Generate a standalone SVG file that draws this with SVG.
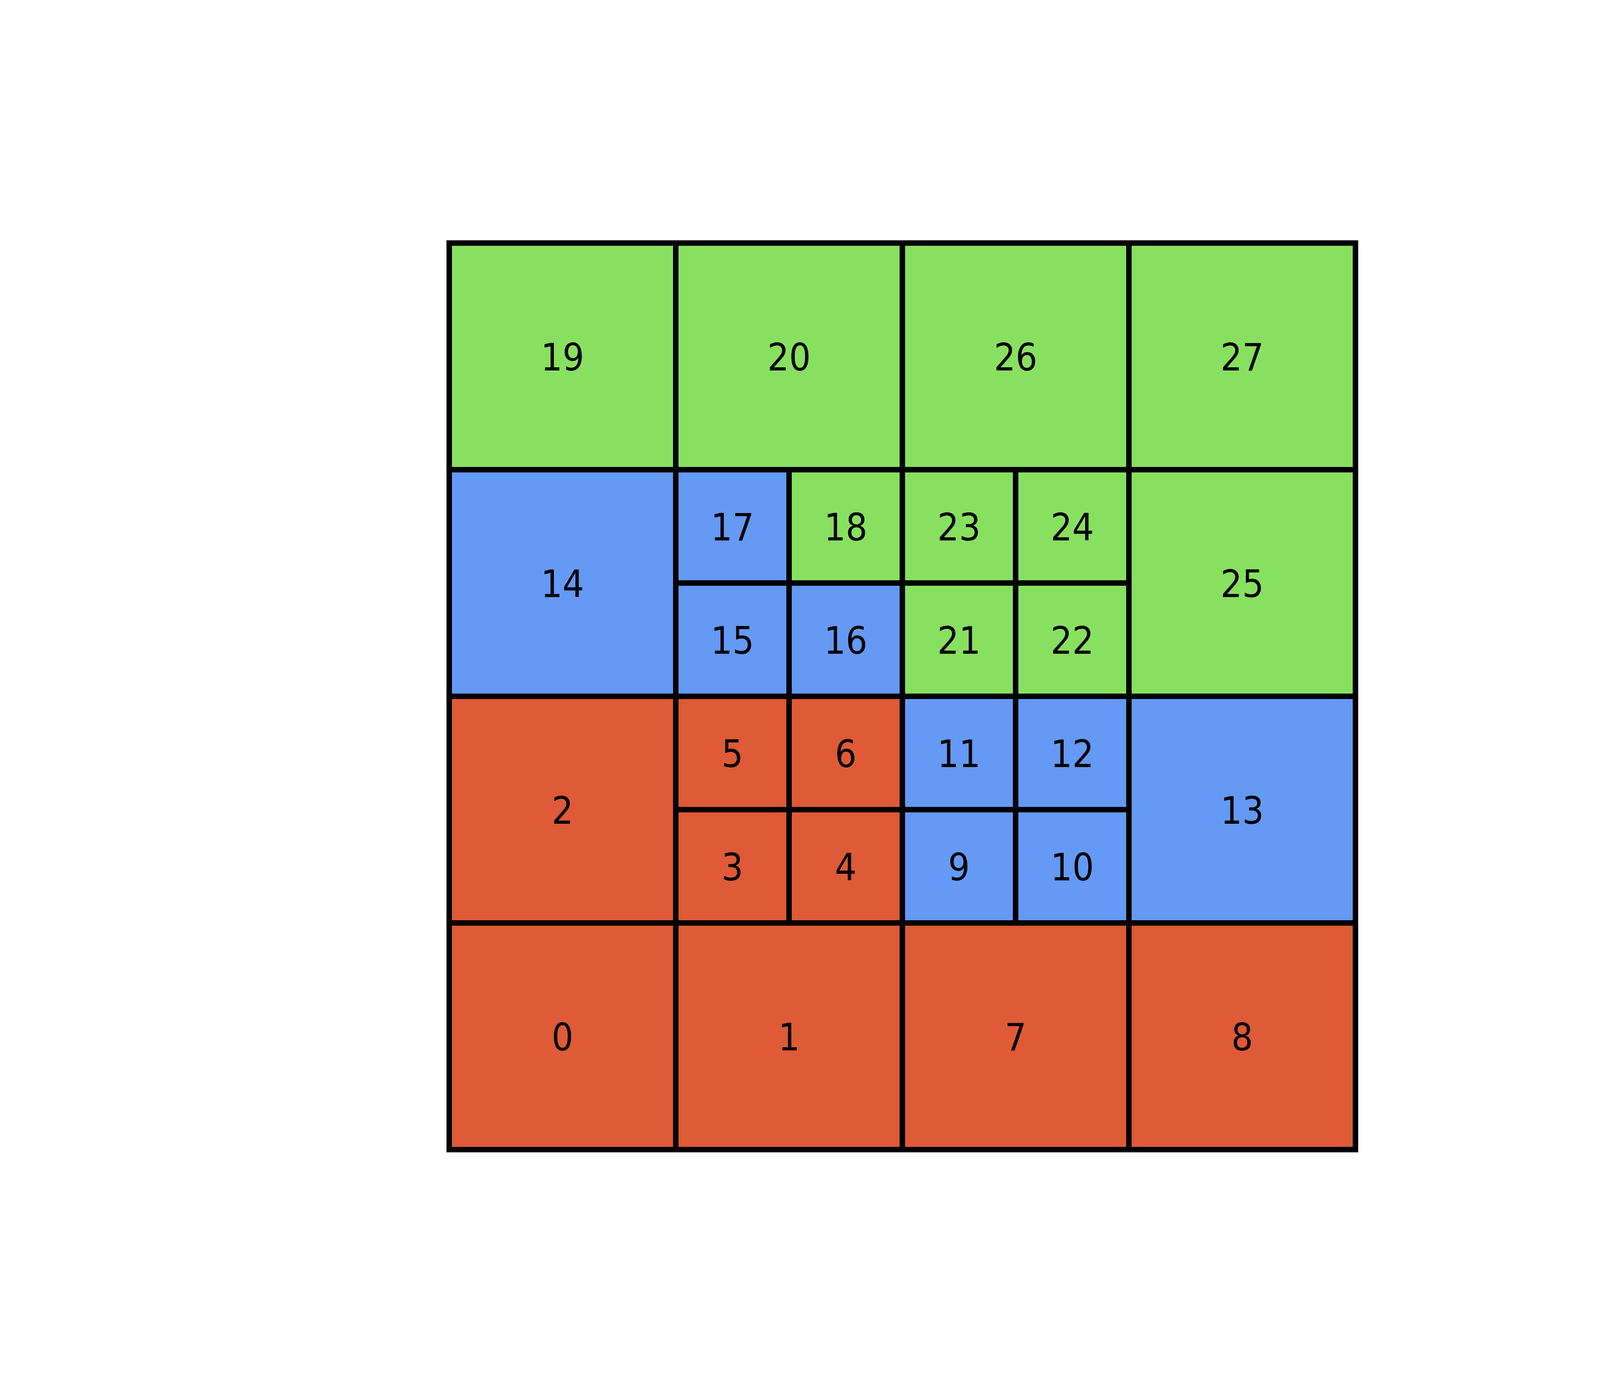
<svg xmlns="http://www.w3.org/2000/svg" width="4620" height="3570" viewBox="0 0 4620 3570">
<style>
rect{stroke:#000;stroke-width:14}
.g{fill:#88E060}.b{fill:#6499F5}.r{fill:#DF5A36}
text{font-family:"DejaVu Sans Condensed","DejaVu Sans",sans-serif;font-size:97px;fill:#000;text-anchor:middle}
</style>
<rect x="0" y="0" width="4620" height="3570" style="fill:#fff;stroke:none"/>
<g id="n19"><rect class="g" x="1150" y="622" width="580" height="580"/><text x="1440" y="948">19</text></g>
<g id="n20"><rect class="g" x="1730" y="622" width="580" height="580"/><text x="2020" y="948">20</text></g>
<g id="n26"><rect class="g" x="2310" y="622" width="580" height="580"/><text x="2600" y="948">26</text></g>
<g id="n27"><rect class="g" x="2890" y="622" width="580" height="580"/><text x="3180" y="948">27</text></g>
<g id="n14"><rect class="b" x="1150" y="1202" width="580" height="580"/><text x="1440" y="1528">14</text></g>
<g id="n17"><rect class="b" x="1730" y="1202" width="290" height="290"/><text x="1875" y="1383">17</text></g>
<g id="n18"><rect class="g" x="2020" y="1202" width="290" height="290"/><text x="2165" y="1383">18</text></g>
<g id="n15"><rect class="b" x="1730" y="1492" width="290" height="290"/><text x="1875" y="1673">15</text></g>
<g id="n16"><rect class="b" x="2020" y="1492" width="290" height="290"/><text x="2165" y="1673">16</text></g>
<g id="n23"><rect class="g" x="2310" y="1202" width="290" height="290"/><text x="2455" y="1383">23</text></g>
<g id="n24"><rect class="g" x="2600" y="1202" width="290" height="290"/><text x="2745" y="1383">24</text></g>
<g id="n21"><rect class="g" x="2310" y="1492" width="290" height="290"/><text x="2455" y="1673">21</text></g>
<g id="n22"><rect class="g" x="2600" y="1492" width="290" height="290"/><text x="2745" y="1673">22</text></g>
<g id="n25"><rect class="g" x="2890" y="1202" width="580" height="580"/><text x="3180" y="1528">25</text></g>
<g id="n2"><rect class="r" x="1150" y="1782" width="580" height="580"/><text x="1440" y="2108">2</text></g>
<g id="n5"><rect class="r" x="1730" y="1782" width="290" height="290"/><text x="1875" y="1963">5</text></g>
<g id="n6"><rect class="r" x="2020" y="1782" width="290" height="290"/><text x="2165" y="1963">6</text></g>
<g id="n3"><rect class="r" x="1730" y="2072" width="290" height="290"/><text x="1875" y="2253">3</text></g>
<g id="n4"><rect class="r" x="2020" y="2072" width="290" height="290"/><text x="2165" y="2253">4</text></g>
<g id="n11"><rect class="b" x="2310" y="1782" width="290" height="290"/><text x="2455" y="1963">11</text></g>
<g id="n12"><rect class="b" x="2600" y="1782" width="290" height="290"/><text x="2745" y="1963">12</text></g>
<g id="n9"><rect class="b" x="2310" y="2072" width="290" height="290"/><text x="2455" y="2253">9</text></g>
<g id="n10"><rect class="b" x="2600" y="2072" width="290" height="290"/><text x="2745" y="2253">10</text></g>
<g id="n13"><rect class="b" x="2890" y="1782" width="580" height="580"/><text x="3180" y="2108">13</text></g>
<g id="n0"><rect class="r" x="1150" y="2362" width="580" height="580"/><text x="1440" y="2688">0</text></g>
<g id="n1"><rect class="r" x="1730" y="2362" width="580" height="580"/><text x="2020" y="2688">1</text></g>
<g id="n7"><rect class="r" x="2310" y="2362" width="580" height="580"/><text x="2600" y="2688">7</text></g>
<g id="n8"><rect class="r" x="2890" y="2362" width="580" height="580"/><text x="3180" y="2688">8</text></g>
<g id="connectors"></g>
</svg>
